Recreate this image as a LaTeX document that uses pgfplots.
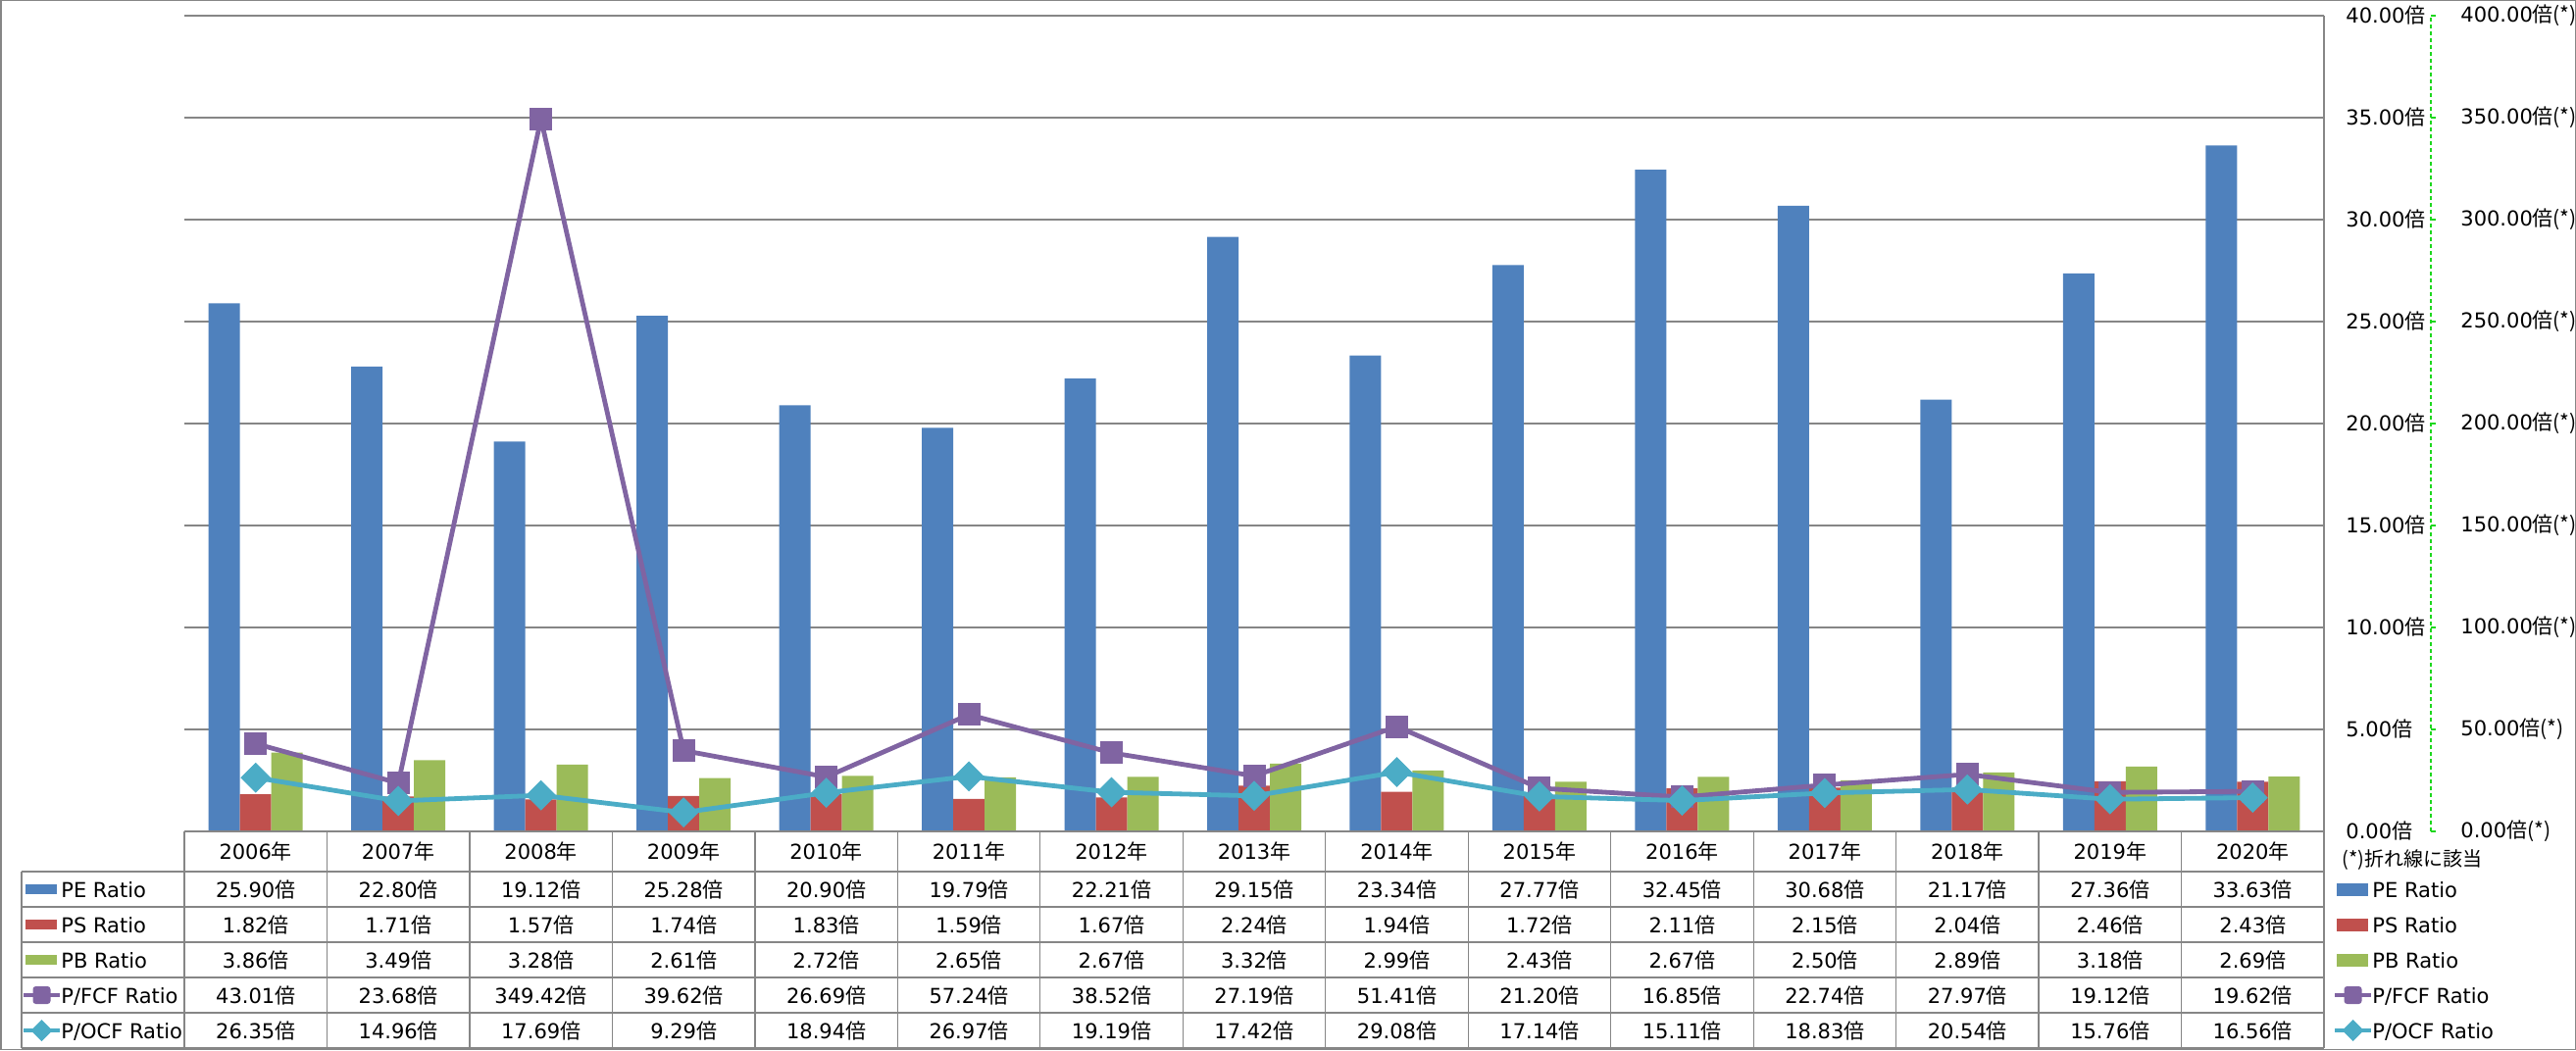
\documentclass[border=0pt]{standalone}
\usepackage{fontspec}
\setmainfont{DejaVu Sans}
\newfontfamily\cjk{Noto Sans CJK JP}
\usepackage{pgfplots}
\usepackage{pgfplotstable}
\pgfplotsset{compat=1.18}
\pgfkeys{/pgf/number format/assume math mode=true}

\definecolor{peblue}{HTML}{4F81BD}
\definecolor{psred}{HTML}{C0504D}
\definecolor{pbgreen}{HTML}{9BBB59}
\definecolor{fcfpurple}{HTML}{8064A2}
\definecolor{ocfteal}{HTML}{4BACC6}
\definecolor{gridgray}{HTML}{868686}
\definecolor{axgreen}{RGB}{30,215,30}

% x = category index, ratios per year
\pgfplotstableread{
x  year pe    ps   pb   pfcf   pocf
0  2006 25.90 1.82 3.86 43.01  26.35
1  2007 22.80 1.71 3.49 23.68  14.96
2  2008 19.12 1.57 3.28 349.42 17.69
3  2009 25.28 1.74 2.61 39.62  9.29
4  2010 20.90 1.83 2.72 26.69  18.94
5  2011 19.79 1.59 2.65 57.24  26.97
6  2012 22.21 1.67 2.67 38.52  19.19
7  2013 29.15 2.24 3.32 27.19  17.42
8  2014 23.34 1.94 2.99 51.41  29.08
9  2015 27.77 1.72 2.43 21.20  17.14
10 2016 32.45 2.11 2.67 16.85  15.11
11 2017 30.68 2.15 2.50 22.74  18.83
12 2018 21.17 2.04 2.89 27.97  20.54
13 2019 27.36 2.46 3.18 19.12  15.76
14 2020 33.63 2.43 2.69 19.62  16.56
}\data

\newcommand\fnt{\fontsize{10.5}{12.5}\selectfont}
\newcommand\bai{{\cjk 倍}}

\begin{document}
\fnt
\begin{tikzpicture}[x=0.5pt,y=0.5pt]
\useasboundingbox (0,0) rectangle (2627,1071);
\draw[gridgray, line width=0.75pt] (0.75,0.75) rectangle (2626.25,1070.25);

% bars, primary axis
\begin{axis}[
  at={(94pt,111.5pt)}, anchor=south west,
  scale only axis, width=1091pt, height=416pt,
  xmin=-0.5, xmax=14.5, ymin=0, ymax=40,
  axis x line=none, axis y line*=right,
  y axis line style={draw=none},
  ytick={0,5,...,40}, major tick length=0pt,
  ymajorgrids, grid style={gridgray, line width=0.75pt},
  yticklabel style={anchor=west, inner sep=0pt, font=\fnt},
  yticklabel={\hspace*{11pt}\pgfmathprintnumber[fixed,fixed zerofill,precision=2]{\tick}\bai},
  ybar=0pt, bar width=16pt,
]
\addplot[draw=none, fill=peblue] table[x=x, y=pe] {\data};
\addplot[draw=none, fill=psred] table[x=x, y=ps] {\data};
\addplot[draw=none, fill=pbgreen] table[x=x, y=pb] {\data};
\end{axis}

% lines, secondary axis (its right edge is the green dashed line)
\begin{axis}[
  at={(94pt,111.5pt)}, anchor=south west,
  scale only axis, width=1145.5pt, height=416pt,
  xmin=-0.5, xmax=15.2493, ymin=0, ymax=400,
  axis x line=none, axis y line*=right,
  y axis line style={axgreen, dash pattern=on 2pt off 1.5pt, line width=0.6pt, -},
  ytick={0,50,...,400}, tick align=outside, major tick length=2.5pt,
  ytick style={axgreen, solid, line width=0.6pt},
  yticklabel style={anchor=west, inner sep=0pt, font=\fnt},
  yticklabel={\hspace*{12.5pt}\pgfmathprintnumber[fixed,fixed zerofill,precision=2]{\tick}\bai{\cjk(*)}},
  clip=false,
]
\addplot[fcfpurple, line width=2.4pt, mark=square*,
  mark options={solid, rounded corners=1.5pt, line width=0.5pt}, mark size=5.5pt]
  table[x=x, y=pfcf] {\data};
\addplot[ocfteal, line width=2.4pt, mark=square*,
  mark options={solid, rotate=45, line width=0.5pt}, mark size=5.2pt]
  table[x=x, y=pocf] {\data};
\end{axis}

% data table grid
\begin{scope}[gridgray, line width=0.65pt]
  \draw (188,223) -- (2370,223);
  \foreach \yy in {182,146,110,74,38,2} \draw (22,\yy) -- (2370,\yy);
  \draw (22,2) -- (22,182);
  \foreach \k in {0,...,14} \draw ({188+145.4667*\k},2) -- ({188+145.4667*\k},223);
  \draw (2370,2) -- (2370,1055);
\end{scope}

% year headers
\foreach \i in {0,...,14} {
  \pgfmathtruncatemacro\yr{2006+\i}
  \node[anchor=base, inner sep=0pt] at ({188+145.4667*(\i+0.5)},194.5) {{\yr}{\cjk 年}};
}
% values
\foreach \col/\yy in {pe/164,ps/128,pb/92,pfcf/56,pocf/20} {
  \foreach \i in {0,...,14} {
    \pgfplotstablegetelem{\i}{\col}\of\data
    \let\cellval\pgfplotsretval
    \node[anchor=base, inner sep=0pt] at ({188+145.4667*(\i+0.5)},\yy-8)
      {\pgfmathprintnumber[fixed,fixed zerofill,precision=2]{\cellval}\bai};
  }
}

% row labels and legend
\foreach \lab/\col/\yy in {PE Ratio/peblue/164,PS Ratio/psred/128,PB Ratio/pbgreen/92} {
  \fill[\col] (26,\yy-5) rectangle (58,\yy+5);
  \node[anchor=base west, inner sep=0pt] at (62,\yy-8) {\lab};
  \fill[\col] (2383,\yy-6.5) rectangle (2415,\yy+6.5);
  \node[anchor=base west, inner sep=0pt] at (2419,\yy-8) {\lab};
}
\foreach \x/\tx in {42.5/62,2399.5/2419} {
  \draw[fcfpurple, line width=2.4pt] (\x-18.5,56) -- (\x+18.5,56);
  \fill[fcfpurple, rounded corners=1.5pt] (\x-9,47) rectangle (\x+9,65);
  \node[anchor=base west, inner sep=0pt] at (\tx,48) {P/FCF Ratio};
  \draw[ocfteal, line width=2.4pt] (\x-18.5,20) -- (\x+18.5,20);
  \fill[ocfteal] (\x,31) -- (\x+11,20) -- (\x,9) -- (\x-11,20) -- cycle;
  \node[anchor=base west, inner sep=0pt] at (\tx,12) {P/OCF Ratio};
}
\node[anchor=west, inner sep=0pt, font=\fontsize{10}{12}\selectfont] at (2388,194) {{\cjk(*)折れ線に該当}};
\end{tikzpicture}
\end{document}
